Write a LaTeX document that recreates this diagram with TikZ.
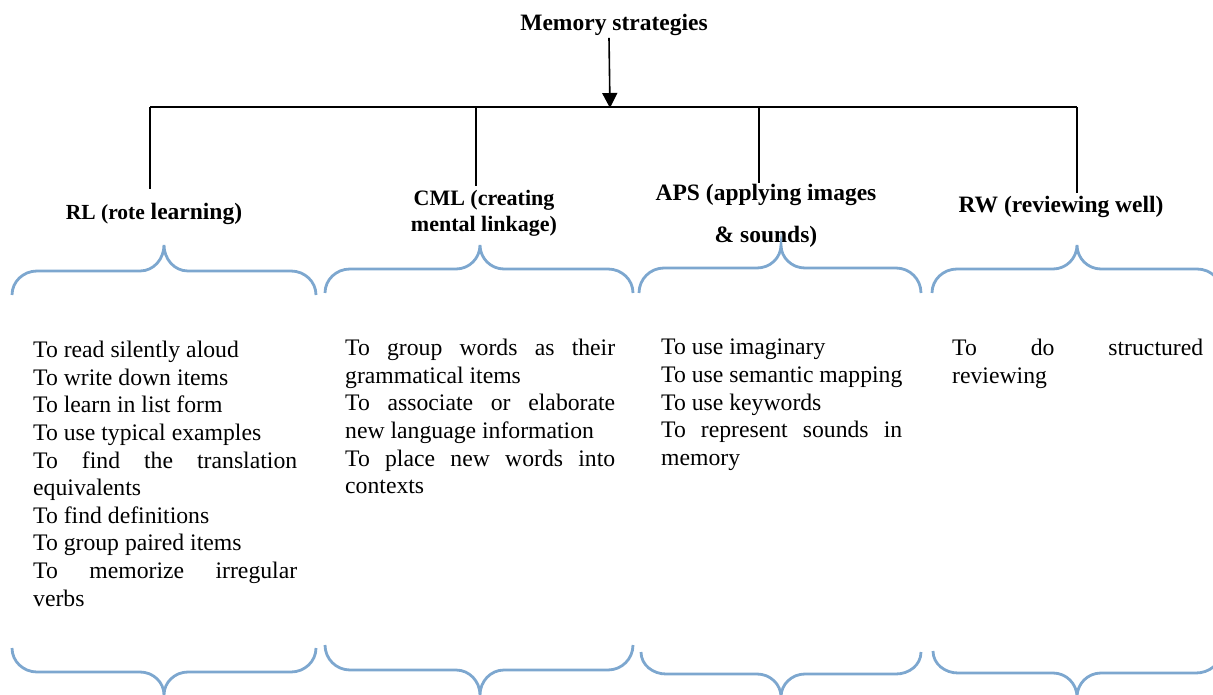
\documentclass[tikz,border=0pt]{standalone}
\usepackage{fontspec}
\setmainfont{Liberation Serif}
\usetikzlibrary{arrows.meta}
\definecolor{bracecol}{RGB}{125,167,207}
\tikzset{
  bracestyle/.style={draw=bracecol, line width=2.8pt},
  branch/.style={draw=black, line width=1.6pt},
  head/.style={font=\bfseries\fontsize{23.5}{28}\selectfont, inner sep=2pt, align=center},
  body/.style={font=\fontsize{23.7}{27.6}\selectfont, inner sep=0pt, anchor=north west, align=left}
}
\newcommand\mybraceup[6]{%
  \draw[bracestyle] (#1,#4) to[out=90,in=180] ({#1+25},#5) -- ({#3-24},#5)
    to[out=0,in=-90] (#3,#6) to[out=-90,in=180] ({#3+24},#5) -- ({#2-25},#5)
    to[out=0,in=90] (#2,#4);}
\newcommand\mybracedown[6]{%
  \draw[bracestyle] (#1,#4) to[out=-90,in=180] ({#1+25},#5) -- ({#3-24},#5)
    to[out=0,in=90] (#3,#6) to[out=90,in=180] ({#3+24},#5) -- ({#2-25},#5)
    to[out=0,in=-90] (#2,#4);}
\newcommand\jl[2]{\makebox[#1][s]{#2}}
\begin{document}
\begin{tikzpicture}[x=1pt,y=1pt]
\path[use as bounding box] (0,0) rectangle (1213,-695);
\clip (0,0) rectangle (1213,-695);
% title and tree
\node[head] (title) at (614,-25) {Memory strategies};
\coordinate (j) at (610,-108);
\draw[branch, -{Triangle[length=15pt,width=15pt]}] (title.south -| 609,0) -- (j);
\coordinate (b1) at (150,-107);
\coordinate (b2) at (476,-107);
\coordinate (b3) at (759,-107);
\coordinate (b4) at (1077,-107);
\coordinate (e1) at (150,-189);
\coordinate (e2) at (476,-186);
\coordinate (e3) at (759,-183);
\coordinate (e4) at (1077,-193);
\draw[draw=black, line width=2pt] (b1) -- (b4);
\draw[branch] (b1) -- (e1);
\draw[branch] (b2) -- (e2);
\draw[branch] (b3) -- (e3);
\draw[branch] (b4) -- (e4);
% headers
\node[head] (rl) at (154,-214) {{\fontsize{21.5}{24}\selectfont RL (rote} learning)};
\node[head, font=\bfseries\fontsize{22}{26}\selectfont] (cml) at (484,-213) {CML (creating\\mental linkage)};
\node[head, font=\bfseries\fontsize{23.5}{42}\selectfont] (aps) at (766,-216) {APS (applying images\\\& sounds)};
\node[head] (rw) at (1061,-207) {RW (reviewing well)};
% top braces
\mybraceup{12}{316}{164}{-295}{-271}{-245}
\mybraceup{325}{633}{480}{-293}{-269}{-245}
\mybraceup{639}{921}{781}{-293}{-268}{-245}
\mybraceup{932}{1222}{1077}{-293}{-269}{-245}
% bottom braces
\mybracedown{12}{316}{164}{-648}{-672}{-695}
\mybracedown{325}{633}{480}{-645}{-670}{-695}
\mybracedown{641}{921}{781}{-652}{-674}{-697}
\mybracedown{933}{1221}{1077}{-651}{-673}{-697}
% body texts
\node[body] (t1) at (33,-341) {To read silently aloud\\
To write down items\\
To learn in list form\\
To use typical examples\\
\jl{264pt}{To find the translation}\\
equivalents\\
To find definitions\\
To group paired items\\
\jl{264pt}{To memorize irregular}\\
verbs};
\node[body] (t2) at (345,-339) {\jl{270pt}{To group words as their}\\
grammatical items\\
\jl{270pt}{To associate or elaborate}\\
new language information\\
\jl{270pt}{To place new words into}\\
contexts};
\node[body] (t3) at (661,-339) {To use imaginary\\
To use semantic mapping\\
To use keywords\\
\jl{241pt}{To represent sounds in}\\
memory};
\node[body] (t4) at (952,-339) {\jl{251pt}{To do structured}\\
reviewing};
\end{tikzpicture}
\end{document}
